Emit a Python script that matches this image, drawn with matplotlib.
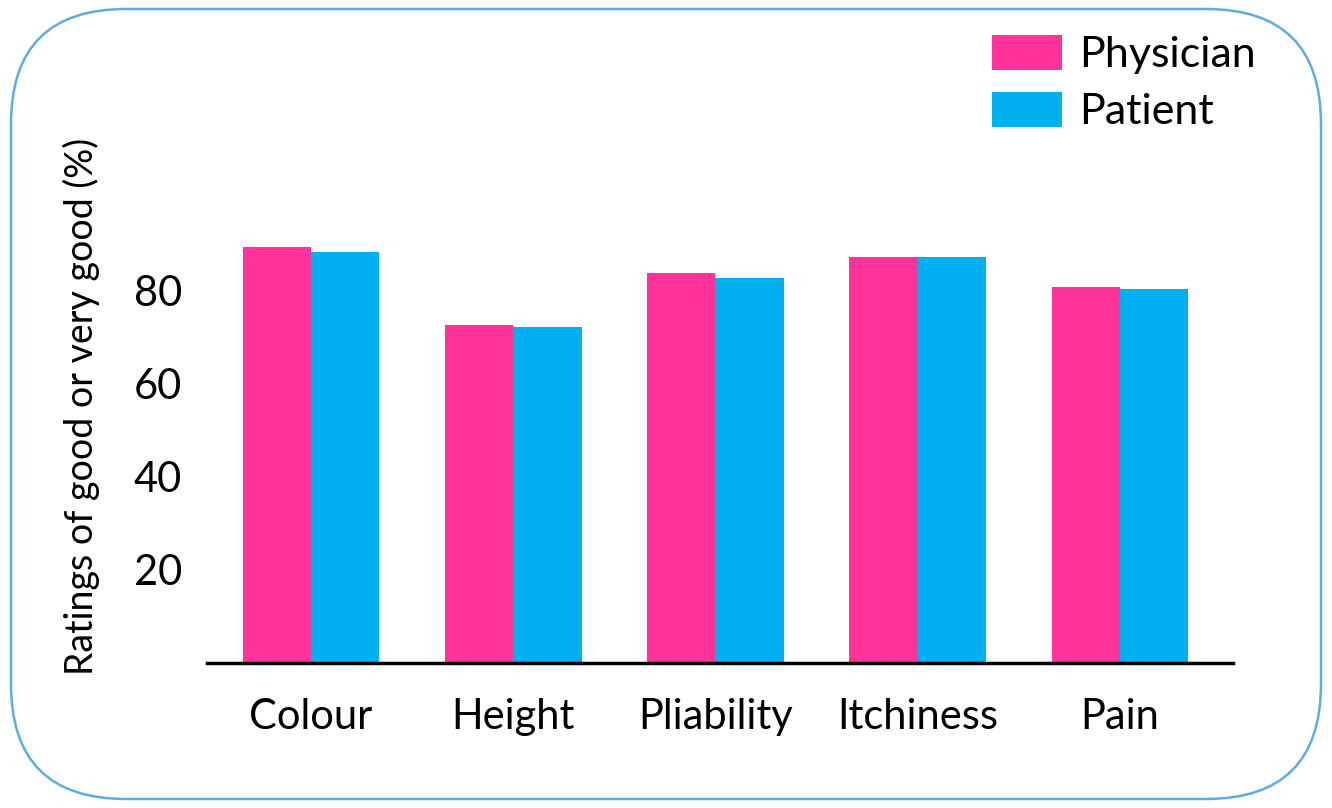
import matplotlib.pyplot as plt
import numpy as np
from matplotlib.patches import FancyBboxPatch

plt.rcParams['font.family'] = ['Lato', 'DejaVu Sans']

# Data
categories = ['Colour', 'Height', 'Pliability', 'Itchiness', 'Pain']
physician = [89.5, 72.7, 83.9, 87.3, 80.9]
patient = [88.4, 72.3, 82.8, 87.3, 80.4]
yticks = [20, 40, 60, 80]

pink = '#FF3399'
blue = '#00B0F0'

W, H = 1332, 808
fig = plt.figure(figsize=(W / 100, H / 100), dpi=100)

# Rounded border around the whole chart, drawn in pixel coordinates
bg = fig.add_axes([0, 0, 1, 1])
bg.set_xlim(0, W)
bg.set_ylim(H, 0)
bg.axis('off')
bg.add_patch(FancyBboxPatch((11, 9), 1310, 790,
                            boxstyle='round,pad=0,rounding_size=115',
                            facecolor='none', edgecolor='#5DADE2', linewidth=1.8))

ax = fig.add_axes([207 / W, 1 - 663 / H, (1233 - 207) / W, (663 - 150) / H])

x = np.arange(len(categories))
w = 0.338
ax.bar(x - w / 2, physician, w, color=pink, label='Physician')
ax.bar(x + w / 2, patient, w, color=blue, label='Patient')

ax.set_xlim(-0.514, 4.559)
ax.set_ylim(0, 110.3)
ax.set_yticks(yticks)
ax.set_xticks(x)
ax.set_xticklabels(categories)
ax.tick_params(axis='both', length=0)
ax.tick_params(axis='x', labelsize=30, pad=25)
ax.tick_params(axis='y', labelsize=30, pad=18)

for side in ['top', 'right', 'left']:
    ax.spines[side].set_visible(False)
ax.spines['bottom'].set_linewidth(2.5)

ax.set_ylabel('Ratings of good or very good (%)', fontsize=27, labelpad=24)

fig.legend(loc='upper right', bbox_to_anchor=(1256 / W, 1 - 35 / H), frameon=False,
           fontsize=31, handlelength=1.62, handleheight=0.86, handletextpad=0.4,
           labelspacing=0.42, borderpad=0, borderaxespad=0)

fig.savefig('out.png', dpi=100)
